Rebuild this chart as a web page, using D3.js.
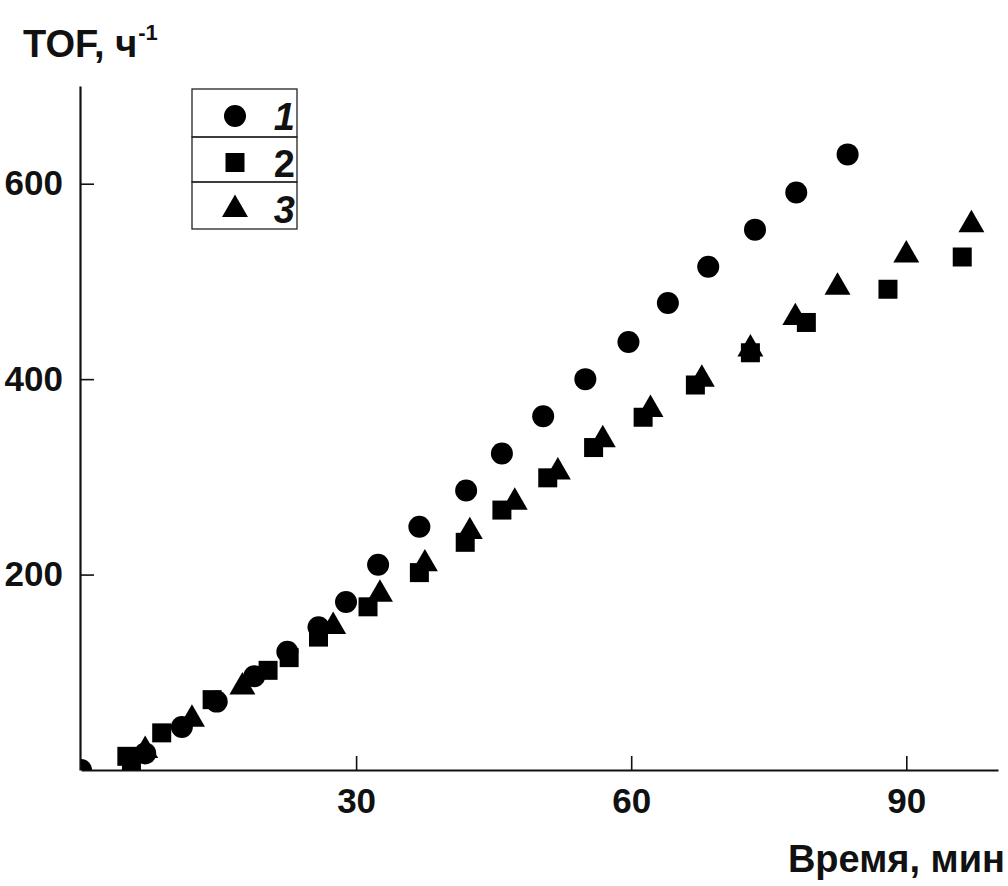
<!DOCTYPE html>
<html>
<head>
<meta charset="utf-8">
<script src="https://cdn.jsdelivr.net/npm/d3@7"></script>
<style>
  html, body { margin: 0; padding: 0; background: #fff; }
  svg { display: block; }
  text { font-family: "Liberation Sans", Arial, sans-serif; font-weight: bold; fill: #111; }
</style>
</head>
<body>
<svg id="chart" width="1008" height="886"></svg>
<script>
// Time (min) and TOF (h^-1) for the three catalysts
const time1 = [0, 7.0, 11.0, 14.8, 18.9, 22.5, 25.9, 28.9, 32.4, 36.9, 42.0, 45.9, 50.4, 55.0, 59.7, 64.0, 68.4, 73.5, 78.0, 83.6];
const tof1  = [0, 17, 44, 70, 96, 121, 146, 172, 210, 249, 286, 324, 362, 400, 438, 478, 515, 553, 591, 630];

const time2 = [5.0, 5.5, 8.8, 14.3, 20.4, 22.7, 25.9, 31.3, 36.9, 41.9, 45.9, 50.9, 55.9, 61.3, 67.0, 73.0, 79.1, 88.0, 96.1];
const tof2  = [14, 5, 38, 72, 102, 115, 136, 167, 202, 233, 266, 299, 330, 361, 394, 427, 458, 492, 525];

const time3 = [7.0, 12.1, 17.6, 27.5, 32.6, 37.5, 42.4, 47.3, 52.0, 56.9, 62.1, 67.7, 73.0, 77.9, 82.5, 90.0, 97.1];
const tof3  = [22, 54, 87, 149, 182, 213, 246, 276, 307, 340, 371, 402, 433, 465, 496, 529, 560];

const seriesNames = ["1", "2", "3"];
const xTicks = [30, 60, 90];
const yTicks = [200, 400, 600];

const svg = d3.select("#chart");

const x = d3.scaleLinear().domain([0, 100]).range([81, 998]);
const y = d3.scaleLinear().domain([0, 700]).range([770, 86]);

// marker shapes
const circlePath = d3.symbol().type(d3.symbolCircle).size(Math.PI * 11 * 11)();
const squarePath = d3.symbol().type(d3.symbolSquare).size(19 * 19)();
const trianglePath = d3.symbol().type(d3.symbolTriangle).size(292)();
const shapes = [circlePath, squarePath, trianglePath];

// clip markers to the plotting area
svg.append("defs").append("clipPath").attr("id", "plotClip")
  .append("rect")
  .attr("x", x(0)).attr("y", y(700) - 20)
  .attr("width", x(100) - x(0) + 20).attr("height", y(0) - y(700) + 20);

// axes
const xAxis = d3.axisBottom(x).tickValues(xTicks).tickSizeInner(-14).tickSizeOuter(0);
const yAxis = d3.axisLeft(y).tickValues(yTicks).tickSizeInner(-14).tickSizeOuter(0);

const gx = svg.append("g").attr("transform", `translate(0,${y(0)})`).call(xAxis);
const gy = svg.append("g").attr("transform", `translate(${x(0) - 1},0)`).call(yAxis);

[gx, gy].forEach(g => {
  g.select(".domain").attr("stroke", "#111").attr("stroke-width", 2.2);
  g.selectAll(".tick line").attr("stroke", "#111").attr("stroke-width", 1.6);
  g.selectAll(".tick text")
    .style("font-family", "'Liberation Sans', Arial, sans-serif")
    .style("font-weight", "bold")
    .style("font-size", "35px")
    .attr("fill", "#111");
});
gx.selectAll(".tick text").attr("y", 43).attr("dy", null);
gy.selectAll(".tick text").attr("x", -17);

// axis titles
const yTitle = svg.append("text").attr("x", 23).attr("y", 57).style("font-size", "38px");
yTitle.append("tspan").text("TOF, ч");
yTitle.append("tspan").attr("dx", 1).attr("dy", -17).style("font-size", "22px").text("-1");

svg.append("text")
  .attr("x", 1005).attr("y", 872)
  .attr("text-anchor", "end")
  .style("font-size", "38px")
  .text("Время, мин");

// data points
const data = [
  time1.map((t, i) => ({ t, v: tof1[i] })),
  time2.map((t, i) => ({ t, v: tof2[i] })),
  time3.map((t, i) => ({ t, v: tof3[i] }))
];

const plot = svg.append("g").attr("clip-path", "url(#plotClip)");
data.forEach((pts, s) => {
  plot.selectAll(null)
    .data(pts)
    .join("path")
    .attr("d", shapes[s])
    .attr("transform", d => `translate(${x(d.t)},${y(d.v) + (s === 2 ? 2 : 0)})`)
    .attr("fill", "#000");
});

// legend
const legend = svg.append("g");
const lx = 192, ly = 89, lw = 105, rowH = [48, 45, 47];
let yy = ly;
seriesNames.forEach((name, i) => {
  legend.append("rect")
    .attr("x", lx).attr("y", yy)
    .attr("width", lw).attr("height", rowH[i])
    .attr("fill", "none").attr("stroke", "#222").attr("stroke-width", 1.3);
  const cy = yy + rowH[i] / 2 + 3;
  legend.append("path")
    .attr("d", shapes[i])
    .attr("transform", `translate(235,${cy + (i === 2 ? 1 : 0)})`)
    .attr("fill", "#000");
  legend.append("text")
    .attr("x", 295).attr("y", cy + 14)
    .attr("text-anchor", "end")
    .style("font-size", "38px")
    .style("font-style", i === 1 ? "normal" : "italic")
    .text(name);
  yy += rowH[i];
});
</script>
</body>
</html>
